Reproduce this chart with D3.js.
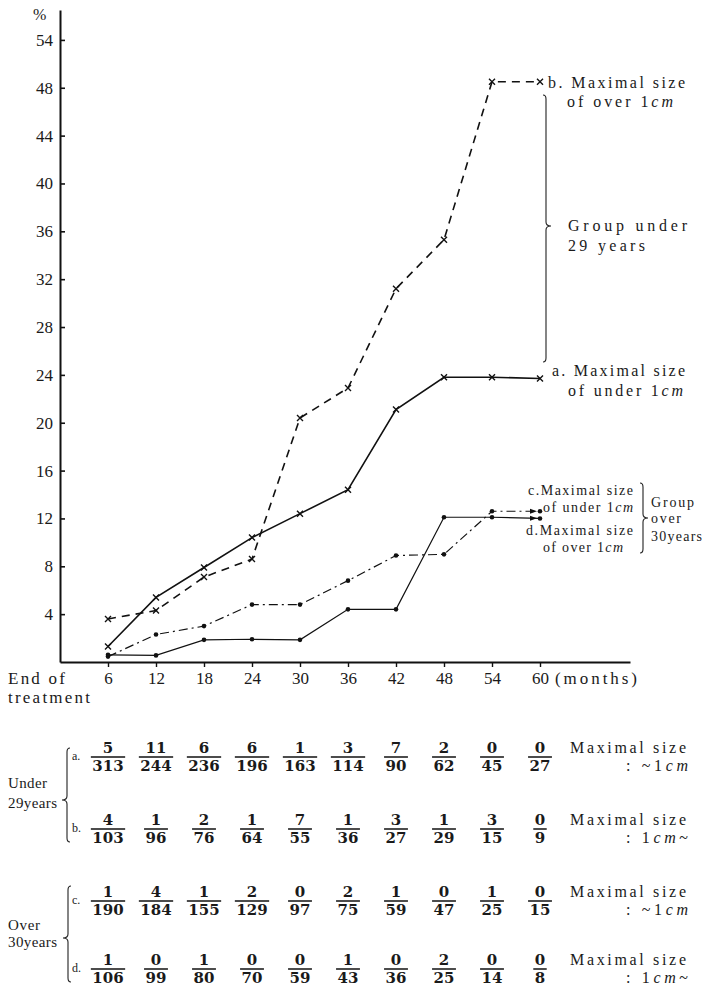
<!DOCTYPE html>
<html>
<head>
<meta charset="utf-8">
<script src="https://cdn.jsdelivr.net/npm/d3@7"></script>
<style>
  body { margin: 0; background: #fff; }
  svg { display: block; }
  text { fill: #1a1a1a; }
</style>
</head>
<body>
<script>
// months after end of treatment
const months = [6, 12, 18, 24, 30, 36, 42, 48, 54, 60];

// recurrence rate (%)
const seriesA = [1.3, 5.4, 7.9, 10.4, 12.4, 14.4, 21.1, 23.8, 23.8, 23.7];
const seriesB = [3.6, 4.3, 7.1, 8.6, 20.4, 22.9, 31.2, 35.3, 48.5, 48.5];
const seriesC = [0.45, 2.3, 3.0, 4.8, 4.8, 6.8, 8.9, 9.0, 12.6, 12.6];
const seriesD = [0.6, 0.55, 1.85, 1.9, 1.85, 4.4, 4.4, 12.1, 12.1, 12.0];

// y ticks (the top one is printed as 54 in the original)
const yTickValues = [4, 8, 12, 16, 20, 24, 28, 32, 36, 40, 44, 48, 52];
const yTickLabels = ['4', '8', '12', '16', '20', '24', '28', '32', '36', '40', '44', '48', '54'];

// cases / patients per interval
const numA = [5, 11, 6, 6, 1, 3, 7, 2, 0, 0];
const denA = [313, 244, 236, 196, 163, 114, 90, 62, 45, 27];
const numB = [4, 1, 2, 1, 7, 1, 3, 1, 3, 0];
const denB = [103, 96, 76, 64, 55, 36, 27, 29, 15, 9];
const numC = [1, 4, 1, 2, 0, 2, 1, 0, 1, 0];
const denC = [190, 184, 155, 129, 97, 75, 59, 47, 25, 15];
const numD = [1, 0, 1, 0, 0, 1, 0, 2, 0, 0];
const denD = [106, 99, 80, 70, 59, 43, 36, 25, 14, 8];

const SERIF = '"Liberation Serif", "DejaVu Serif", serif';
const W = 702, H = 989;
const svg = d3.select('body').append('svg').attr('width', W).attr('height', H);

const x = d3.scaleLinear().domain([0, 71.25]).range([60, 630]);
const y = d3.scaleLinear().domain([0, 54.5]).range([662, 10]);

// write a label; "cm" is set in italics
function label(g, px, py, str, size, width, anchor) {
  const t = g.append('text').attr('x', px).attr('y', py)
    .style('font-family', SERIF).attr('font-size', size).attr('text-anchor', anchor || 'start');
  str.split(/(cm)/).forEach(p => {
    if (!p) return;
    const s = t.append('tspan').text(p);
    if (p === 'cm') s.attr('font-style', 'italic');
  });
  if (width) t.attr('textLength', width).attr('lengthAdjust', 'spacing');
  return t;
}

function brace(g, bx, y0, y1, ym, dir) {
  const w = 5 * dir, c = -3 * dir;
  const d = `M${bx + c},${y0} Q${bx},${y0} ${bx},${y0 + 4} L${bx},${ym - 4} Q${bx},${ym} ${bx + w},${ym}` +
    ` Q${bx},${ym} ${bx},${ym + 4} L${bx},${y1 - 4} Q${bx},${y1} ${bx + c},${y1}`;
  g.append('path').attr('d', d).attr('fill', 'none').attr('stroke', '#222').attr('stroke-width', 1.1);
}

// axes
const yAxis = d3.axisLeft(y).tickValues(yTickValues).tickFormat((d, i) => yTickLabels[i])
  .tickSize(-5).tickSizeOuter(0).tickPadding(7);
const gy = svg.append('g').attr('transform', `translate(${x(0)},0)`).call(yAxis);
gy.selectAll('text').attr('font-size', 17).style('font-family', SERIF).attr('fill', '#1a1a1a');
gy.select('.domain').attr('stroke-width', 2).attr('stroke', '#111');
gy.selectAll('.tick line').attr('stroke-width', 1.6).attr('stroke', '#111');

const xAxis = d3.axisBottom(x).tickValues(months).tickSize(5).tickSizeOuter(0).tickPadding(5);
const gx = svg.append('g').attr('transform', `translate(0,${y(0)})`).call(xAxis);
gx.selectAll('text').attr('font-size', 17).style('font-family', SERIF).attr('fill', '#1a1a1a');
gx.select('.domain').attr('stroke-width', 2).attr('stroke', '#111');
gx.selectAll('.tick line').attr('stroke-width', 1.4).attr('stroke', '#111');

const ann = svg.append('g');
label(ann, 33, 20, '%', 16);
label(ann, 555, 684, '(months)', 17, 82);
label(ann, 8, 684, 'End of', 17, 57);
label(ann, 8, 703, 'treatment', 17, 82);

// arrow marker for the last segment of c and d
svg.append('defs').append('marker')
  .attr('id', 'arrow').attr('viewBox', '0 -4 10 8').attr('markerUnits', 'userSpaceOnUse')
  .attr('markerWidth', 10).attr('markerHeight', 8).attr('refX', 10).attr('refY', 0)
  .attr('orient', 'auto')
  .append('path').attr('d', 'M0,-2.5L7,0L0,2.5Z').attr('fill', '#111');

const line = d3.line().x((d, i) => x(months[i])).y(d => y(d));

const series = [
  { vals: seriesA, dash: null, width: 1.6, mark: 'x' },
  { vals: seriesB, dash: '8,6', width: 1.6, mark: 'x' },
  { vals: seriesC, dash: '9,4,2,4', width: 1.2, mark: 'dot', arrow: true },
  { vals: seriesD, dash: null, width: 1.2, mark: 'dot', arrow: true }
];

const gl = svg.append('g');
series.forEach(s => {
  gl.append('path').datum(s.vals).attr('d', line)
    .attr('fill', 'none').attr('stroke', '#111').attr('stroke-width', s.width)
    .attr('stroke-dasharray', s.dash)
    .attr('marker-end', s.arrow ? 'url(#arrow)' : null);
  const pts = gl.append('g').selectAll('g').data(s.vals).join('g')
    .attr('transform', (d, i) => `translate(${x(months[i])},${y(d)})`);
  if (s.mark === 'x') {
    pts.append('path').attr('d', 'M-3,-3L3,3M-3,3L3,-3').attr('stroke', '#111').attr('stroke-width', 1.4);
  } else {
    pts.append('circle').attr('r', 2.3).attr('fill', '#111');
  }
});

// curve labels
label(ann, 548, 88, 'b. Maximal size', 16, 137);
label(ann, 567, 107, 'of over 1cm', 16, 106);
brace(ann, 546, 95, 362, 226, 1);
label(ann, 568, 231, 'Group under', 16, 119);
label(ann, 568, 251, '29 years', 16, 77);
label(ann, 552, 376, 'a. Maximal size', 16, 133);
label(ann, 568, 396, 'of under 1cm', 16, 115);

label(ann, 528, 495, 'c.Maximal size', 14, 105);
label(ann, 543, 512, 'of under 1cm', 14, 90);
label(ann, 526, 535, 'd.Maximal size', 14, 107);
label(ann, 543, 552, 'of over 1cm', 14, 80);
brace(ann, 643, 483, 553, 518, 1);
label(ann, 651, 507, 'Group', 14, 43);
label(ann, 651, 523, 'over', 14, 30);
label(ann, 651, 541, '30years', 14, 51);

// table of fractions
const rows = [
  { key: 'a.', num: numA, den: denA, note: ': ~1cm' },
  { key: 'b.', num: numB, den: denB, note: ': 1cm~' },
  { key: 'c.', num: numC, den: denC, note: ': ~1cm' },
  { key: 'd.', num: numD, den: denD, note: ': 1cm~' }
];
const barY = [757, 829, 901, 969];

const gt = svg.append('g');
rows.forEach((r, ri) => {
  const by = barY[ri];
  r.num.forEach((n, i) => {
    const cx = x(months[i]);
    const tn = gt.append('text').attr('x', cx).attr('y', by - 3.6).attr('text-anchor', 'middle')
      .attr('font-size', 15).attr('font-weight', 'bold').style('font-family', '"DejaVu Serif", serif').text(n);
    const td = gt.append('text').attr('x', cx).attr('y', by + 14.2).attr('text-anchor', 'middle')
      .attr('font-size', 15).attr('font-weight', 'bold').style('font-family', '"DejaVu Serif", serif').text(r.den[i]);
    const bw = Math.max(tn.node().getComputedTextLength(), td.node().getComputedTextLength()) + 3;
    gt.append('line').attr('x1', cx - bw / 2).attr('x2', cx + bw / 2).attr('y1', by).attr('y2', by)
      .attr('stroke', '#111').attr('stroke-width', 1.5);
  });
  label(gt, 72, by + 3, r.key, 12);
  label(gt, 570, by - 4, 'Maximal size', 16, 116);
  label(gt, 688, by + 14, r.note, 16, 62, 'end');
});

brace(gt, 67, 748, 842, 800, -1);
brace(gt, 68, 886, 982, 938, -1);
label(gt, 8, 788, 'Under', 15, 39);
label(gt, 8, 808, '29years', 15, 49);
label(gt, 8, 930, 'Over', 15, 32);
label(gt, 8, 947, '30years', 15, 49);
</script>
</body>
</html>
